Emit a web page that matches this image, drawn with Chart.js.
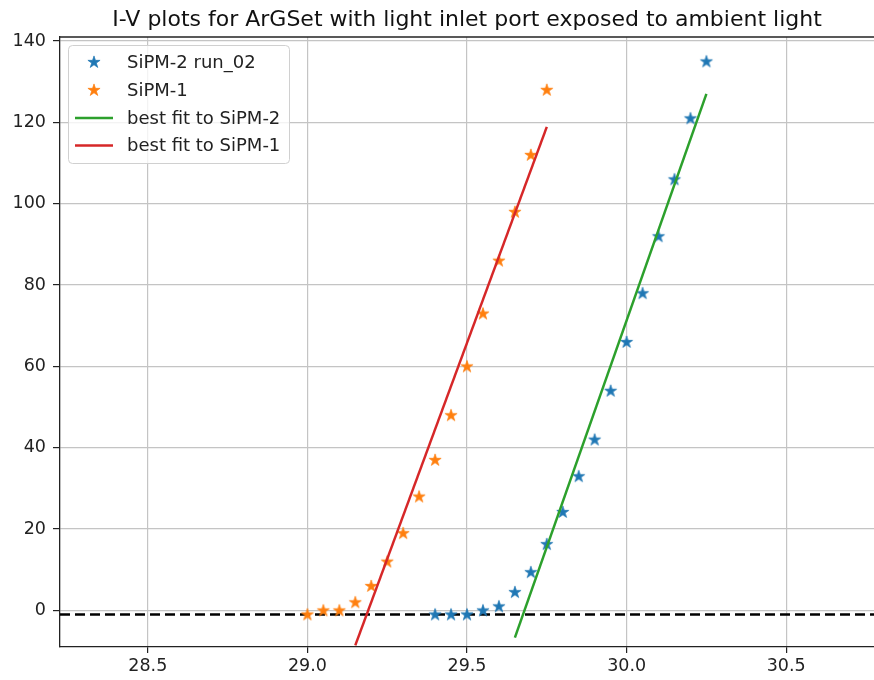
<!DOCTYPE html>
<html>
<head>
<meta charset="utf-8">
<script src="https://cdn.jsdelivr.net/npm/chart.js@4/dist/chart.umd.min.js"></script>
<style>
  html, body { margin: 0; padding: 0; background: #fff; }
  canvas { display: block; }
</style>
</head>
<body>
<canvas id="iv" width="874" height="680"></canvas>
<script>
const titleText = 'I-V plots for ArGSet with light inlet port exposed to ambient light';

// SiPM-2, run 02: bias voltage (V) and measured current
const sipm2Voltage = [29.40, 29.45, 29.50, 29.55, 29.60, 29.65, 29.70, 29.75, 29.80,
                      29.85, 29.90, 29.95, 30.00, 30.05, 30.10, 30.15, 30.20, 30.25];
const sipm2Current = [-1, -1, -1, 0, 1, 4.5, 9.4, 16.3, 24.2,
                      33, 42, 54, 66, 78, 92, 106, 121, 135];

// SiPM-1: bias voltage (V) and measured current
const sipm1Voltage = [29.00, 29.05, 29.10, 29.15, 29.20, 29.25, 29.30, 29.35,
                      29.40, 29.45, 29.50, 29.55, 29.60, 29.65, 29.70, 29.75];
const sipm1Current = [-1, 0, 0, 2, 6, 12, 19, 28,
                      37, 48, 60, 73, 86, 98, 112, 128];

// Straight-line fits (end points)
const fit2Voltage = [29.65, 30.25];
const fit2Current = [-6.7, 127.0];
const fit1Voltage = [29.15, 29.75];
const fit1Current = [-8.6, 118.9];

// Dark-current baseline
const baselineVoltage = [28.225, 30.775];
const baselineCurrent = [-1, -1];

// Axes
const xRange = [28.225, 30.775];
const yRange = [-9, 141];
const xTicks = [28.5, 29.0, 29.5, 30.0, 30.5];
const yTicks = [0, 20, 40, 60, 80, 100, 120, 140];

const FONT = '"DejaVu Sans", "Liberation Sans", sans-serif';

// Filled five-pointed star used as marker
function starMarker(color, r) {
  const size = Math.ceil(2 * r + 3);
  const c = document.createElement('canvas');
  c.width = size; c.height = size;
  const g = c.getContext('2d');
  const cx = size / 2, cy = size / 2 + r * 0.05;
  const inner = r * 0.382;
  g.beginPath();
  for (let i = 0; i < 10; i++) {
    const rad = i % 2 === 0 ? r : inner;
    const a = -Math.PI / 2 + i * Math.PI / 5;
    const px = cx + rad * Math.cos(a), py = cy + rad * Math.sin(a);
    if (i === 0) g.moveTo(px, py); else g.lineTo(px, py);
  }
  g.closePath();
  g.fillStyle = color;
  g.fill();
  g.lineWidth = 0.7;
  g.strokeStyle = color;
  g.stroke();
  return c;
}

const blueStar = starMarker('#1f77b4', 6.4);
const orangeStar = starMarker('#ff7f0e', 6.4);

const pairs = (xs, ys) => xs.map((x, i) => ({ x, y: ys[i] }));

// Title, top spine and in-axes legend
const decorations = {
  id: 'decorations',
  afterDraw(chart) {
    const { ctx, chartArea: a } = chart;
    ctx.save();

    ctx.strokeStyle = '#222';
    ctx.lineWidth = 1.3;
    ctx.beginPath();
    ctx.moveTo(a.left, a.top);
    ctx.lineTo(a.right, a.top);
    ctx.stroke();

    ctx.fillStyle = '#111';
    ctx.font = '22px ' + FONT;
    ctx.textAlign = 'center';
    ctx.textBaseline = 'alphabetic';
    ctx.fillText(titleText, (a.left + a.right) / 2, 26);

    // legend box
    const bx = 68.5, by = 45.5, bw = 221, bh = 118, br = 4;
    ctx.beginPath();
    ctx.moveTo(bx + br, by);
    ctx.arcTo(bx + bw, by, bx + bw, by + bh, br);
    ctx.arcTo(bx + bw, by + bh, bx, by + bh, br);
    ctx.arcTo(bx, by + bh, bx, by, br);
    ctx.arcTo(bx, by, bx + bw, by, br);
    ctx.closePath();
    ctx.fillStyle = 'rgba(255,255,255,0.8)';
    ctx.fill();
    ctx.strokeStyle = '#d0d0d0';
    ctx.lineWidth = 1;
    ctx.stroke();

    const entries = chart.data.datasets.filter(d => d.label);
    const rowY = [62, 90, 118, 145.5];
    ctx.font = '18px ' + FONT;
    ctx.textAlign = 'left';
    ctx.textBaseline = 'middle';
    entries.forEach((d, i) => {
      const y = rowY[i];
      if (d.showLine) {
        ctx.strokeStyle = d.borderColor;
        ctx.lineWidth = 2.5;
        ctx.beginPath();
        ctx.moveTo(75, y);
        ctx.lineTo(113, y);
        ctx.stroke();
      } else {
        const img = d.pointStyle;
        ctx.drawImage(img, 94 - img.width / 2, y - img.height / 2);
      }
      ctx.fillStyle = '#222';
      ctx.fillText(d.label, 127, y + 1);
    });

    ctx.restore();
  }
};

const tickFont = { family: FONT, size: 17.5 };

new Chart(document.getElementById('iv'), {
  type: 'scatter',
  data: {
    datasets: [
      {
        label: 'SiPM-2 run_02',
        data: pairs(sipm2Voltage, sipm2Current),
        pointStyle: blueStar,
        pointRadius: 5,
        showLine: false,
        order: 4
      },
      {
        label: 'SiPM-1',
        data: pairs(sipm1Voltage, sipm1Current),
        pointStyle: orangeStar,
        pointRadius: 5,
        showLine: false,
        order: 3
      },
      {
        label: 'best fit to SiPM-2',
        data: pairs(fit2Voltage, fit2Current),
        showLine: true,
        borderColor: '#2ca02c',
        borderWidth: 2.5,
        pointRadius: 0,
        order: 2
      },
      {
        label: 'best fit to SiPM-1',
        data: pairs(fit1Voltage, fit1Current),
        showLine: true,
        borderColor: '#d62728',
        borderWidth: 2.5,
        pointRadius: 0,
        order: 1
      },
      {
        data: pairs(baselineVoltage, baselineCurrent),
        showLine: true,
        borderColor: '#000',
        borderWidth: 2.6,
        borderDash: [10, 5],
        pointRadius: 0,
        order: 5
      }
    ]
  },
  options: {
    responsive: false,
    animation: false,
    devicePixelRatio: 1,
    events: [],
    layout: { autoPadding: false, padding: { top: 37, left: 0, right: 0, bottom: 0 } },
    plugins: {
      legend: { display: false },
      tooltip: { enabled: false },
      title: { display: false }
    },
    scales: {
      x: {
        type: 'linear',
        min: xRange[0],
        max: xRange[1],
        afterBuildTicks: s => { s.ticks = xTicks.map(v => ({ value: v })); },
        afterFit: s => { s.height = 33; s.paddingLeft = 0; s.paddingRight = 0; },
        ticks: {
          callback: v => Number(v).toFixed(1),
          font: tickFont,
          color: '#222',
          padding: 3,
          maxRotation: 0,
          autoSkip: false
        },
        grid: {
          color: '#c4c4c4',
          lineWidth: 1.2,
          tickColor: '#222',
          tickLength: 6,
          tickWidth: 1.2
        },
        border: { color: '#222', width: 1.3 }
      },
      y: {
        type: 'linear',
        min: yRange[0],
        max: yRange[1],
        afterBuildTicks: s => { s.ticks = yTicks.map(v => ({ value: v })); },
        afterFit: s => { s.width = 60; s.paddingTop = 0; s.paddingBottom = 0; },
        ticks: {
          font: tickFont,
          color: '#222',
          padding: 7
        },
        grid: {
          color: '#c4c4c4',
          lineWidth: 1.2,
          tickColor: '#222',
          tickLength: 7,
          tickWidth: 1.2
        },
        border: { color: '#222', width: 1.3 }
      }
    }
  },
  plugins: [decorations]
});
</script>
</body>
</html>
